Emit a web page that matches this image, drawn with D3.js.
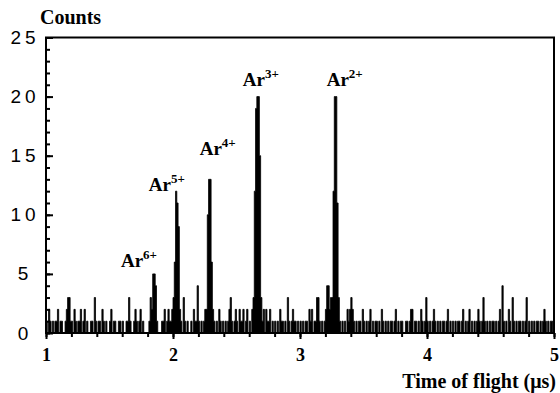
<!DOCTYPE html>
<html>
<head>
<meta charset="utf-8">
<script src="https://cdn.jsdelivr.net/npm/d3@7"></script>
<style>
  body { margin: 0; background: #fff; }
  svg { display: block; }
  .serif { font-family: "Liberation Serif", "Times New Roman", serif; font-weight: bold; fill: #000; }
  .sans { font-family: "Liberation Sans", Arial, sans-serif; fill: #000; }
</style>
</head>
<body>
<div id="chart"></div>
<script>
// time-of-flight histogram, 0.01 us channels starting at 1.00 us
const binStart = 1.0;
const binWidth = 0.01;
const counts = [
  1, 0, 2, 1, 0, 1, 0, 1, 1, 2,        // 1.00
  0, 1, 1, 0, 0, 1, 2, 3, 3, 1,        // 1.10
  1, 0, 2, 1, 0, 1, 1, 2, 0, 1,        // 1.20
  2, 0, 1, 0, 0, 1, 1, 0, 3, 1,        // 1.30
  0, 1, 1, 0, 2, 1, 0, 1, 0, 0,        // 1.40
  1, 2, 0, 1, 1, 0, 0, 1, 1, 0,        // 1.50
  1, 0, 0, 1, 1, 3, 1, 0, 0, 1,        // 1.60
  2, 1, 0, 1, 2, 0, 1, 0, 0, 0,        // 1.70
  0, 1, 3, 2, 5, 5, 4, 1, 0, 0,        // 1.80
  0, 1, 1, 2, 0, 1, 2, 1, 1, 2,        // 1.90
  3, 6, 12, 11, 9, 2, 1, 0, 3, 1,      // 2.00
  0, 1, 0, 0, 1, 0, 2, 1, 1, 4,        // 2.10
  1, 0, 1, 0, 1, 2, 2, 10, 13, 13,     // 2.20
  6, 2, 1, 0, 1, 0, 2, 1, 0, 1,        // 2.30
  0, 1, 0, 1, 2, 3, 1, 0, 1, 2,        // 2.40
  1, 0, 2, 1, 1, 2, 0, 1, 2, 0,        // 2.50
  1, 0, 2, 3, 12, 19, 20, 20, 15, 3,   // 2.60
  1, 2, 0, 2, 1, 1, 2, 0, 1, 0,        // 2.70
  1, 0, 1, 0, 2, 1, 1, 0, 1, 0,        // 2.80
  3, 1, 0, 1, 2, 1, 1, 0, 1, 0,        // 2.90
  1, 0, 1, 0, 1, 1, 0, 2, 1, 2,        // 3.00
  0, 1, 1, 3, 3, 1, 0, 1, 0, 1,        // 3.10
  2, 4, 4, 2, 3, 3, 12, 20, 20, 11,    // 3.20
  3, 1, 0, 1, 0, 1, 0, 2, 1, 2,        // 3.30
  3, 2, 1, 0, 1, 0, 1, 1, 0, 2,        // 3.40
  1, 0, 1, 0, 1, 2, 0, 1, 0, 1,        // 3.50
  1, 0, 1, 0, 2, 1, 0, 1, 0, 1,        // 3.60
  0, 1, 1, 0, 1, 2, 0, 1, 0, 1,        // 3.70
  1, 0, 0, 1, 1, 0, 1, 2, 2, 0,        // 3.80
  1, 1, 0, 1, 0, 2, 1, 0, 1, 3,        // 3.90
  1, 0, 1, 0, 1, 2, 1, 0, 1, 0,        // 4.00
  1, 0, 1, 1, 0, 1, 2, 0, 1, 0,        // 4.10
  1, 0, 1, 0, 1, 1, 0, 1, 2, 0,        // 4.20
  1, 0, 1, 2, 0, 1, 0, 1, 0, 1,        // 4.30
  2, 1, 0, 1, 3, 1, 0, 1, 0, 1,        // 4.40
  0, 1, 1, 0, 1, 0, 1, 2, 0, 4,        // 4.50
  1, 0, 1, 0, 2, 1, 0, 3, 1, 0,        // 4.60
  1, 0, 1, 1, 0, 1, 0, 1, 3, 0,        // 4.70
  1, 0, 1, 0, 1, 0, 1, 1, 0, 1,        // 4.80
  0, 1, 2, 1, 0, 1, 0, 1, 1, 0         // 4.90
];

const yTicks = [0, 5, 10, 15, 20, 25];
const yMinor = d3.range(0, 26, 1);
const xTicks = [1, 2, 3, 4, 5];
const xMinor = [1, 1.2, 1.4, 1.6, 1.8, 2, 2.2, 2.4, 2.6, 2.8, 3, 3.2, 3.4, 3.6, 3.8, 4, 4.2, 4.4, 4.6, 4.8, 5];

// peak annotations (label anchor in data units)
const ionCharges = ["6+", "5+", "4+", "3+", "2+"];
const labelTimes = [1.59, 1.81, 2.21, 2.55, 3.21];
const labelCounts = [5.6, 12.0, 15.1, 20.9, 20.9];

const W = 560, H = 393;
const margin = { top: 37.5, right: 6, bottom: 60, left: 46 };
const width = W - margin.left - margin.right;
const height = H - margin.top - margin.bottom;

const svg = d3.select("#chart").append("svg")
  .attr("width", W)
  .attr("height", H);

const g = svg.append("g")
  .attr("transform", "translate(" + margin.left + "," + margin.top + ")");

const x = d3.scaleLinear().domain([1, 5]).range([0, width]);
const y = d3.scaleLinear().domain([0, 25]).range([height, 0]);

g.append("clipPath").attr("id", "plotclip")
  .append("rect").attr("width", width).attr("height", height);

// histogram: filled steps with a thin edge
const pts = counts.map((c, i) => [binStart + i * binWidth, c]);
pts.push([binStart + counts.length * binWidth, counts[counts.length - 1]]);

const area = d3.area()
  .x(d => x(d[0]))
  .y0(y(0))
  .y1(d => y(d[1]))
  .curve(d3.curveStepAfter);

const line = d3.line()
  .x(d => x(d[0]))
  .y(d => y(d[1]))
  .curve(d3.curveStepAfter);

g.append("path")
  .datum(pts)
  .attr("clip-path", "url(#plotclip)")
  .attr("d", area)
  .attr("fill", "#000");

g.append("path")
  .datum(pts)
  .attr("clip-path", "url(#plotclip)")
  .attr("d", line)
  .attr("fill", "none")
  .attr("stroke", "#000")
  .attr("stroke-width", 0.8);

// frame
g.append("rect")
  .attr("width", width)
  .attr("height", height)
  .attr("fill", "none")
  .attr("stroke", "#000")
  .attr("stroke-width", 2);

// y axis: inward ticks
const yMinorAxis = d3.axisLeft(y).tickValues(yMinor).tickSizeInner(-4).tickSizeOuter(0).tickFormat("");
g.append("g").attr("class", "y minor").call(yMinorAxis)
  .call(a => a.select(".domain").remove())
  .selectAll("line").attr("stroke-width", 2);

const yAxis = d3.axisLeft(y).tickValues(yTicks).tickSizeInner(-7).tickSizeOuter(0).tickPadding(0);
g.append("g").attr("class", "y axis").call(yAxis)
  .call(a => a.select(".domain").remove())
  .call(a => a.selectAll("line").attr("stroke-width", 2))
  .selectAll("text")
  .attr("class", "sans")
  .attr("x", -21)
  .attr("text-anchor", "middle")
  .style("font-size", "19px")
  .style("letter-spacing", "4px");

// x axis: outward ticks
const xMinorAxis = d3.axisBottom(x).tickValues(xMinor).tickSizeInner(4).tickSizeOuter(0).tickFormat("");
g.append("g").attr("class", "x minor")
  .attr("transform", "translate(0," + height + ")")
  .call(xMinorAxis)
  .call(a => a.select(".domain").remove())
  .selectAll("line").attr("stroke-width", 2);

const xAxis = d3.axisBottom(x).tickValues(xTicks).tickSizeInner(6).tickSizeOuter(0).tickPadding(9)
  .tickFormat(d3.format("d"));
g.append("g").attr("class", "x axis")
  .attr("transform", "translate(0," + height + ")")
  .call(xAxis)
  .call(a => a.select(".domain").remove())
  .call(a => a.selectAll("line").attr("stroke-width", 2))
  .selectAll("text")
  .attr("class", "serif")
  .style("font-size", "18px");

// axis titles
svg.append("text")
  .attr("class", "serif")
  .attr("x", 40)
  .attr("y", 24)
  .style("font-size", "20px")
  .text("Counts");

svg.append("text")
  .attr("class", "serif")
  .attr("x", 556)
  .attr("y", 388)
  .attr("text-anchor", "end")
  .style("font-size", "20px")
  .text("Time of flight (μs)");

// peak labels
const lab = g.selectAll(".peak")
  .data(ionCharges)
  .enter()
  .append("text")
  .attr("class", "serif peak")
  .attr("x", (d, i) => x(labelTimes[i]))
  .attr("y", (d, i) => y(labelCounts[i]))
  .style("font-size", "19px");
lab.append("tspan").text("Ar");
lab.append("tspan")
  .attr("dy", "-8")
  .style("font-size", "13px")
  .text(d => d);
</script>
</body>
</html>
